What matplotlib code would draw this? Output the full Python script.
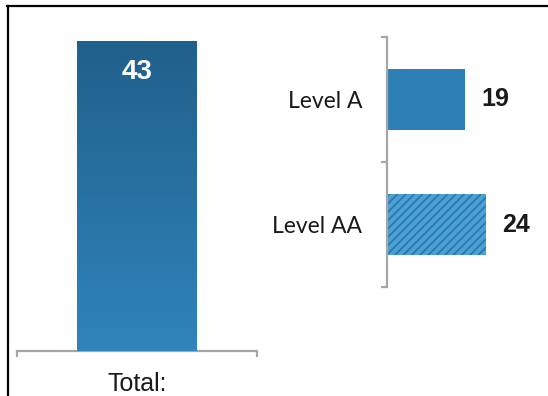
import numpy as np
import matplotlib
matplotlib.use("Agg")
import matplotlib.pyplot as plt
from matplotlib.lines import Line2D
from matplotlib.colors import LinearSegmentedColormap

# Data
total_label = "Total:"
total_value = 43
levels = ["Level A", "Level AA"]
level_values = [19, 24]

W, H, DPI = 548, 396, 100
fig = plt.figure(figsize=(W / DPI, H / DPI), dpi=DPI)
plt.rcParams["hatch.linewidth"] = 1.3

AXIS_GRAY = "#a6a6a6"
BLUE = "#2e7fb6"
BLUE_TOP = "#21608b"
BLUE_BOTTOM = "#2f84bb"


def fx(px):
    return px / W


def fy(px):
    return 1 - px / H


# ---- Left panel: total bar with vertical gradient ----
axl = fig.add_axes([fx(17), fy(351), fx(240), 310 / H])
bar = axl.bar([0], [total_value], width=0.5, color=BLUE, linewidth=0, zorder=2)[0]
grad = np.linspace(0, 1, 256).reshape(-1, 1)
cmap = LinearSegmentedColormap.from_list("bluegrad", [BLUE_BOTTOM, BLUE_TOP])
img = axl.imshow(grad, cmap=cmap, aspect="auto", origin="lower",
                 extent=[-0.25, 0.25, 0, total_value], zorder=3)
img.set_clip_path(bar)
axl.set_xlim(-0.5, 0.5)
axl.set_ylim(0, total_value)
axl.annotate(str(total_value), xy=(0, total_value), xytext=(0, -13),
             textcoords="offset points", ha="center", va="top",
             color="white", fontsize=20, fontweight="bold",
             family="Liberation Sans", zorder=4)
for s in ["top", "right", "left"]:
    axl.spines[s].set_visible(False)
axl.spines["bottom"].set_color(AXIS_GRAY)
axl.spines["bottom"].set_linewidth(1.6)
axl.set_yticks([])
axl.set_xticks([0])
axl.set_xticklabels([total_label], family="Liberation Sans", fontsize=18, color="#1a1a1a")
axl.tick_params(axis="x", which="major", length=0, pad=15)
axl.set_xticks([-0.5, 0.5], minor=True)
axl.tick_params(axis="x", which="minor", length=4.5, width=1.6, color=AXIS_GRAY, direction="out")
axl.patch.set_alpha(0)

# ---- Right panel: level breakdown ----
axr = fig.add_axes([fx(387), fy(287), fx(156), 250 / H])
ypos = np.arange(len(levels))
bars = axr.barh(ypos, level_values, height=0.49, linewidth=0,
                color=[BLUE, "#4ba1d4"], zorder=2)
bars[1].set_hatch("////")
bars[1].set_edgecolor("#2b77ac")
bars[1].set_linewidth(0)
axr.set_xlim(0, 38)
axr.set_ylim(1.5, -0.5)
for b, v in zip(bars, level_values):
    axr.annotate(str(v), xy=(v, b.get_y() + b.get_height() / 2), xytext=(12, 0),
                 textcoords="offset points", ha="left", va="center",
                 fontsize=18, fontweight="bold", color="#1a1a1a",
                 family="Liberation Sans")
for s in ["top", "right", "bottom"]:
    axr.spines[s].set_visible(False)
axr.spines["left"].set_color(AXIS_GRAY)
axr.spines["left"].set_linewidth(1.6)
axr.set_xticks([])
axr.set_yticks(ypos)
axr.set_yticklabels(levels, family="Lato", fontsize=16.5, color="#1a1a1a")
axr.tick_params(axis="y", which="major", length=0, pad=18)
axr.set_yticks([-0.5, 0.5, 1.5], minor=True)
axr.tick_params(axis="y", which="minor", length=4.5, width=1.6, color=AXIS_GRAY, direction="out")
axr.patch.set_alpha(0)

# Frame lines along the top and left edges
fig.add_artist(Line2D([fx(7), 1.0], [fy(5.5), fy(5.5)], color="black", linewidth=1.6,
                      transform=fig.transFigure))
fig.add_artist(Line2D([fx(7.5), fx(7.5)], [fy(5.5), 0.0], color="black", linewidth=1.6,
                      transform=fig.transFigure))

fig.savefig("out.png", dpi=DPI)
